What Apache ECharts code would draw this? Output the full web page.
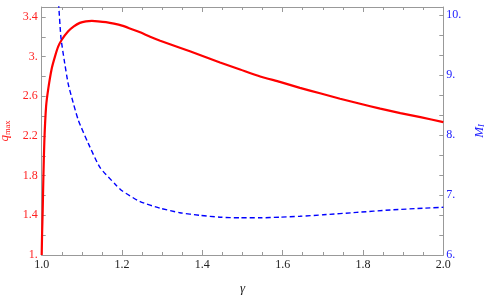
<!DOCTYPE html>
<html>
<head>
<meta charset="utf-8">
<script src="https://cdn.jsdelivr.net/npm/echarts@6/dist/echarts.min.js"></script>
<style>html,body{margin:0;padding:0;background:#fff;}#c{width:485px;height:300px;}</style>
</head>
<body>
<div id="c"></div>
<script>
// gamma values and q_max (left axis)
var gammaQ = [1.0, 1.001, 1.0025, 1.004, 1.0066, 1.011, 1.0165, 1.025, 1.033, 1.041, 1.05, 1.066, 1.08, 1.095, 1.11, 1.125, 1.14, 1.16, 1.18, 1.2, 1.22, 1.245, 1.27, 1.295, 1.344, 1.394, 1.444, 1.494, 1.544, 1.593, 1.643, 1.693, 1.743, 1.793, 1.843, 1.893, 1.943, 2.0];
var qMax   = [1.0, 1.22, 1.45, 1.75, 2.15, 2.50, 2.68, 2.88, 3.0, 3.1, 3.17, 3.255, 3.305, 3.34, 3.355, 3.36, 3.356, 3.347, 3.332, 3.312, 3.283, 3.245, 3.2, 3.16, 3.09, 3.016, 2.94, 2.87, 2.80, 2.745, 2.685, 2.63, 2.575, 2.525, 2.475, 2.43, 2.39, 2.34];
// gamma values and M_I (right axis)
var gammaM = [1.038, 1.0426, 1.048, 1.056, 1.066, 1.075, 1.091, 1.116, 1.145, 1.183, 1.2, 1.245, 1.295, 1.344, 1.394, 1.444, 1.494, 1.544, 1.593, 1.643, 1.701, 1.784, 1.868, 1.95, 2.0];
var mI     = [10.6, 10.133, 9.62, 9.25, 8.85, 8.62, 8.25, 7.86, 7.46, 7.18, 7.07, 6.89, 6.78, 6.705, 6.66, 6.63, 6.62, 6.62, 6.63, 6.645, 6.67, 6.71, 6.75, 6.78, 6.795];

var xTicks = [1.0, 1.2, 1.4, 1.6, 1.8, 2.0];
var xTickLabels = ['1.0', '1.2', '1.4', '1.6', '1.8', '2.0'];
var leftTicks = [1, 1.4, 1.8, 2.2, 2.6, 3.0, 3.4];
var leftTickLabels = ['1.', '1.4', '1.8', '2.2', '2.6', '3.', '3.4'];
var leftMinorTicks = [1, 1.2, 1.4, 1.6, 1.8, 2.0, 2.2, 2.4, 2.6, 2.8, 3.0, 3.2, 3.4];
var rightTicks = [6, 7, 8, 9, 10];
var rightTickLabels = ['6.', '7.', '8.', '9.', '10.'];
var rightMinorTicks = [6, 6.3333, 6.6667, 7, 7.3333, 7.6667, 8, 8.3333, 8.6667, 9, 9.3333, 9.6667, 10];

function zip(a, b) { return a.map(function (v, i) { return [v, b[i]]; }); }
function lookup(vals, labels) {
  return function (v) {
    for (var i = 0; i < vals.length; i++) if (Math.abs(vals[i] - v) < 1e-6) return labels[i];
    return '';
  };
}

var FONT = "'Liberation Serif', 'Times New Roman', serif";
var GRAY = '#999999';
var RED = '#ff2020';
var BLUE = '#2020ff';

var chart = echarts.init(document.getElementById('c'));
chart.setOption({
  animation: false,
  backgroundColor: '#ffffff',
  grid: { left: 41.7, right: 41.7, top: 7, bottom: 45, containLabel: false, outerBoundsMode: 'none' },
  xAxis: [
    {
      type: 'value', min: 1, max: 2, interval: 0.2, position: 'bottom',
      name: 'γ', nameLocation: 'middle', nameGap: 27,
      nameTextStyle: { fontFamily: FONT, fontStyle: 'italic', fontSize: 13, color: '#222' },
      axisLine: { show: true, lineStyle: { color: GRAY, width: 1 } },
      axisTick: { show: true, inside: true, length: 5, lineStyle: { color: GRAY } },
      minorTick: { show: true, splitNumber: 4, length: 3, lineStyle: { color: GRAY } },
      axisLabel: { show: true, margin: 4, fontFamily: FONT, fontSize: 12, color: '#222',
        customValues: xTicks, formatter: lookup(xTicks, xTickLabels) },
      splitLine: { show: false }, minorSplitLine: { show: false }
    },
    {
      type: 'value', min: 1, max: 2, interval: 0.2, position: 'top',
      axisLine: { show: true, lineStyle: { color: GRAY, width: 1 } },
      axisTick: { show: true, inside: true, length: 5, lineStyle: { color: GRAY } },
      minorTick: { show: true, splitNumber: 4, length: 3, lineStyle: { color: GRAY } },
      axisLabel: { show: false },
      splitLine: { show: false }
    }
  ],
  yAxis: [
    {
      type: 'value', min: 1, max: 3.5, position: 'left',
      name: '{i|q}{s|max}', nameLocation: 'middle', nameGap: 28, nameRotate: 90,
      nameTextStyle: {
        color: RED,
        rich: {
          i: { fontFamily: FONT, fontStyle: 'italic', fontSize: 13, color: RED },
          s: { fontFamily: FONT, fontSize: 8.5, color: RED, padding: [5, 0, 0, 0] }
        }
      },
      axisLine: { show: true, lineStyle: { color: GRAY, width: 1 } },
      axisTick: { show: true, inside: true, length: 4, lineStyle: { color: GRAY }, customValues: leftMinorTicks },
      axisLabel: { show: true, margin: 4, fontFamily: FONT, fontSize: 12, color: RED,
        customValues: leftTicks, formatter: lookup(leftTicks, leftTickLabels) },
      splitLine: { show: false }
    },
    {
      type: 'value', min: 6, max: 10.133, position: 'right',
      name: '{i|M}{s|I}', nameLocation: 'middle', nameGap: 29, nameRotate: 90,
      nameTextStyle: {
        color: BLUE,
        rich: {
          i: { fontFamily: FONT, fontStyle: 'italic', fontSize: 13, color: BLUE },
          s: { fontFamily: FONT, fontStyle: 'italic', fontSize: 8.5, color: BLUE, padding: [5, 0, 0, 0] }
        }
      },
      axisLine: { show: true, lineStyle: { color: GRAY, width: 1 } },
      axisTick: { show: true, inside: true, length: 4, lineStyle: { color: GRAY }, customValues: rightMinorTicks },
      axisLabel: { show: true, margin: 3, fontFamily: FONT, fontSize: 12, color: BLUE,
        customValues: rightTicks, formatter: lookup(rightTicks, rightTickLabels) },
      splitLine: { show: false }
    }
  ],
  series: [
    {
      type: 'line', xAxisIndex: 0, yAxisIndex: 0, data: zip(gammaQ, qMax),
      showSymbol: false, symbol: 'none', smooth: 0.2, clip: true,
      lineStyle: { color: '#ff0000', width: 2.2 }
    },
    {
      type: 'line', xAxisIndex: 0, yAxisIndex: 1, data: zip(gammaM, mI),
      showSymbol: false, symbol: 'none', smooth: 0.2, clip: true,
      lineStyle: { color: '#0000ff', width: 1.4, type: [5, 3] }
    }
  ]
});
</script>
</body>
</html>
